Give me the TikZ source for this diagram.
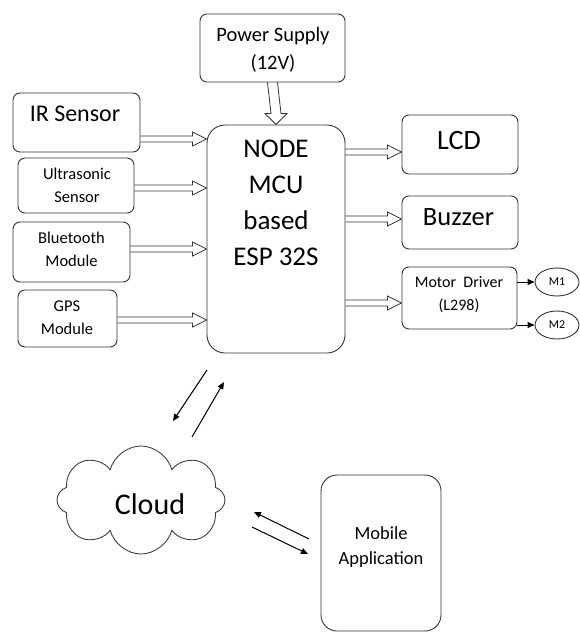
\documentclass[tikz,border=0pt]{standalone}
\usepackage{fontspec}
\setmainfont{Carlito}
\usetikzlibrary{calc,arrows.meta,shapes.geometric,shapes.symbols}
\newcommand{\hollowH}[2]{%
  \draw[hol] ($(#1)+(0,-3)$) -- ($(#2)+(-14,-3)$) -- ($(#2)+(-14,-7)$) -- (#2)
    -- ($(#2)+(-14,7)$) -- ($(#2)+(-14,3)$) -- ($(#1)+(0,3)$);}
\newcommand{\hollowV}[2]{%
  \draw[hol] ($(#1)+(-5,0)$) -- ($(#2)+(-5,-11)$) -- ($(#2)+(-11,-11)$) -- (#2)
    -- ($(#2)+(11,-11)$) -- ($(#2)+(5,-11)$) -- ($(#1)+(5,0)$);}
\begin{document}
\begin{tikzpicture}[x=1pt,y=-1pt,
  box/.style={draw=black!80, line width=0.9pt, rounded corners=7pt, inner sep=0pt},
  txt/.style={align=center, inner sep=0pt, text=black},
  hol/.style={draw=black!80, line width=0.8pt, line join=miter},
  thin/.style={draw=black, line width=1pt, -{Triangle[length=7pt,width=6pt]}},
  motor/.style={draw=black!80, line width=0.9pt, ellipse, minimum width=44pt, minimum height=28pt, inner sep=0pt}
]
\useasboundingbox (0,0) rectangle (579,632);
% boxes
\node[box, minimum width=145pt, minimum height=68pt] (ps) at (272.5,48) {};
\node[box, minimum width=138pt, minimum height=228pt, rounded corners=18pt] (mcu) at (276,239) {};
\node[box, minimum width=127pt, minimum height=59pt] (ir) at (76.5,122.5) {};
\node[box, minimum width=116pt, minimum height=55pt] (us) at (76,185.5) {};
\node[box, minimum width=117pt, minimum height=60pt] (bt) at (71.5,252) {};
\node[box, minimum width=99pt, minimum height=57pt] (gps) at (67.5,318.5) {};
\node[box, minimum width=116pt, minimum height=59pt] (lcd) at (460,144.5) {};
\node[box, minimum width=116pt, minimum height=53pt] (buz) at (460,222.5) {};
\node[box, minimum width=115pt, minimum height=62pt] (md) at (459.5,298) {};
\node[motor] (m1) at (557,282) {};
\node[motor] (m2) at (557,325) {};
\node[box, minimum width=120pt, minimum height=156pt, rounded corners=16pt] (mob) at (381,553) {};
\node[draw=black!75, line width=0.9pt, cloud, cloud puffs=8, cloud puff arc=150, aspect=1.55,
      minimum width=168pt, minimum height=108pt, inner sep=0pt] (cloud) at (141,500) {};
% texts
\node[txt, font=\fontsize{20.5}{28}\selectfont] (pst) at (273,50) {Power Supply\\(12V)};
\node[txt, font=\fontsize{27}{36}\selectfont] (mcut) at (276,203) {NODE\\MCU\\based\\ESP 32S};
\node[txt, font=\fontsize{24}{26}\selectfont] (irt) at (75,114) {IR Sensor};
\node[txt, font=\fontsize{16.5}{23}\selectfont] (ust) at (77,185) {Ultrasonic\\Sensor};
\node[txt, font=\fontsize{16.5}{23}\selectfont] (btt) at (71.5,249) {Bluetooth\\Module};
\node[txt, font=\fontsize{16.5}{23}\selectfont] (gpst) at (67,318) {GPS\\Module};
\node[txt, font=\fontsize{28}{30}\selectfont] (lcdt) at (459,141) {LCD};
\node[txt, font=\fontsize{26.5}{30}\selectfont] (buzt) at (458.5,217) {Buzzer};
\node[txt, font=\fontsize{16}{23}\selectfont] (mdt) at (459,295) {Motor\ \ Driver\\(L298)};
\node[txt, font=\fontsize{12}{13}\selectfont] (m1t) at (m1) {M1};
\node[txt, font=\fontsize{12}{13}\selectfont] (m2t) at (m2) {M2};
\node[txt, font=\fontsize{30}{32}\selectfont] (cloudt) at (150,504) {Cloud};
\node[txt, font=\fontsize{18.5}{25}\selectfont] (mobt) at (381,547) {Mobile\\Application};
% hollow arrows
\hollowV{ps.south}{mcu.north}
\hollowH{ir.east |- 0,139}{mcu.west |- 0,139}
\hollowH{us.east |- 0,188}{mcu.west |- 0,188}
\hollowH{bt.east |- 0,249}{mcu.west |- 0,249}
\hollowH{gps.east |- 0,320}{mcu.west |- 0,320}
\hollowH{mcu.east |- 0,152}{lcd.west |- 0,152}
\hollowH{mcu.east |- 0,219}{buz.west |- 0,219}
\hollowH{mcu.east |- 0,303}{md.west |- 0,303}
% motor arrows
\draw[thin] (md.east |- m1.center) -- (m1.west);
\draw[thin] (md.east |- m2.center) -- (m2.west);
% wireless arrows
\coordinate (a1s) at (207,370); \coordinate (a1e) at (173,421);
\coordinate (a2s) at (192,437); \coordinate (a2e) at (224,382);
\coordinate (a3s) at (309,539); \coordinate (a3e) at (254,512);
\coordinate (a4s) at (252,527); \coordinate (a4e) at (308,554);
\draw[thin] (a1s) -- (a1e);
\draw[thin] (a2s) -- (a2e);
\draw[thin] (a3s) -- (a3e);
\draw[thin] (a4s) -- (a4e);
\end{tikzpicture}
\end{document}
